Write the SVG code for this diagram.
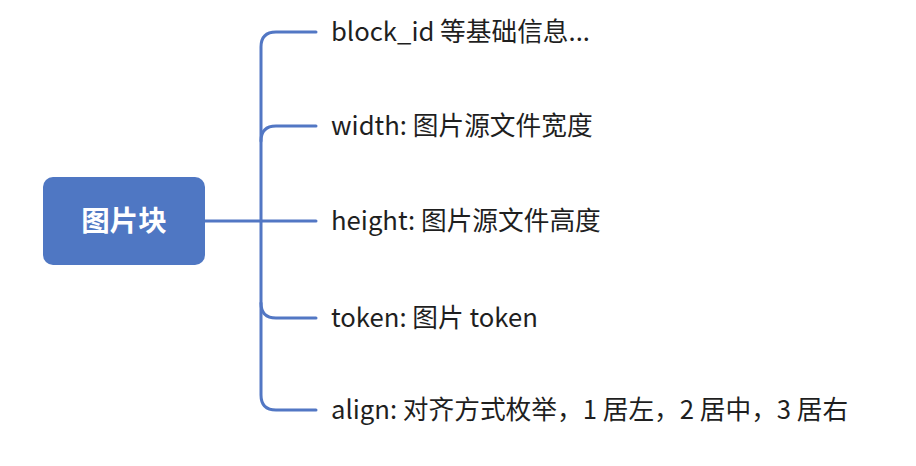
<svg xmlns="http://www.w3.org/2000/svg" width="916" height="466" viewBox="0 0 916 466">
<style>
.conn{fill:none;stroke:#5277C4;stroke-width:3;stroke-linecap:round;stroke-linejoin:round}
.lbl{font-family:"Noto Sans CJK SC","Noto Sans",sans-serif;font-size:25.7px;fill:#1f1f1f}
.root{font-family:"Noto Sans CJK SC","Noto Sans",sans-serif;font-size:28.5px;font-weight:bold;fill:#ffffff}
</style>
<rect width="916" height="466" fill="#ffffff"/>
<g id="connectors">
<path class="conn" d="M205 221 H316"/>
<path class="conn" d="M261 221 V47 Q261 32 276 32 H316"/>
<path class="conn" d="M261 141 Q261 126 276 126 H316"/>
<path class="conn" d="M261 221 V395 Q261 410 276 410 H316"/>
<path class="conn" d="M261 303 Q261 318 276 318 H316"/>
</g>
<g id="root">
<rect x="43" y="177" width="162" height="88" rx="10" fill="#4F77C3"/>
<text class="root" x="124" y="231" text-anchor="middle">图片块</text>
</g>
<g id="n1"><text class="lbl" x="331" y="41">block_id 等基础信息...</text></g>
<g id="n2"><text class="lbl" x="331" y="135">width: 图片源文件宽度</text></g>
<g id="n3"><text class="lbl" x="331" y="230">height: 图片源文件高度</text></g>
<g id="n4"><text class="lbl" x="331" y="327">token: 图片 token</text></g>
<g id="n5"><text class="lbl" x="331" y="419">align: 对齐方式枚举，1 居左，2 居中，3 居右</text></g>
</svg>
